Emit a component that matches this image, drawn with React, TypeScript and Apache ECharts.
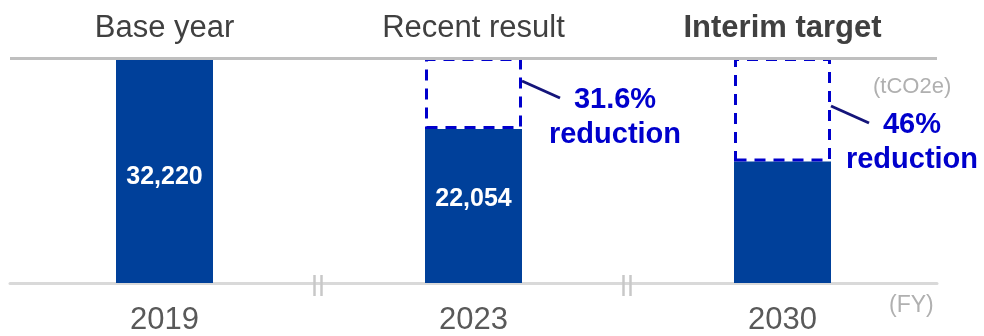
import React, { useEffect, useRef } from "react";
import * as echarts from "echarts";

// Fiscal years and the stage each one represents
const categories = ["2019", "2023", "2030"];
const stageLabels = ["Base year", "Recent result", "Interim target"];

// Emissions (tCO2e): base year, recent result, interim target (46% below base)
const emissions = [32220, 22054, 17399];
const showValueLabel = [true, true, false];
const baseYearValue = 32220;

// Reduction versus the base year, per category (empty = no callout)
const reductionRates = ["", "31.6%", "46%"];

// Callout placement: [text centre offset from box edge, vertical offset from box top]
const calloutLayout = [
  [0, 0],
  [93, 23],
  [81, 48],
];
// Vertical nudges for the value labels inside the bars
const valueLabelOffsets = [4, -9, 0];

const FONT = "'Liberation Sans', Arial, Helvetica, sans-serif";
const BAR_COLOR = "#00409a";
const ACCENT = "#0000cc";
const BAR_WIDTH = 97;

export default function App() {
  const ref = useRef<HTMLDivElement>(null);

  useEffect(() => {
    if (!ref.current) return;
    const chart = echarts.init(ref.current, null, { renderer: "svg" });

    const calloutData = reductionRates
      .map((r, i) => [i, baseYearValue, r])
      .filter((d) => d[2] !== "");

    chart.setOption({
      animation: false,
      textStyle: { fontFamily: FONT },
      grid: {
        left: 10,
        right: 47,
        top: 58,
        bottom: 53,
        containLabel: false,
        outerBoundsMode: "none",
      },
      xAxis: [
        {
          type: "category",
          data: categories,
          position: "bottom",
          axisLine: { lineStyle: { color: "#d9d9d9", width: 3 } },
          axisTick: { show: false },
          axisLabel: {
            color: "#595959",
            fontSize: 31,
            fontFamily: FONT,
            margin: 20,
          },
          splitLine: { show: false },
        },
        {
          type: "category",
          data: stageLabels.map((s, i) => ({
            value: s,
            textStyle: { fontWeight: i === 2 ? "bold" : "normal" },
          })),
          position: "top",
          axisLine: { show: false },
          axisTick: { show: false },
          axisLabel: {
            color: "#404040",
            fontSize: 31,
            fontFamily: FONT,
            margin: 16,
          },
          splitLine: { show: false },
        },
      ],
      yAxis: {
        type: "value",
        min: 0,
        max: baseYearValue,
        show: false,
        splitLine: { show: false },
      },
      series: [
        {
          name: "Emissions",
          type: "bar",
          stack: "total",
          barWidth: BAR_WIDTH,
          itemStyle: { color: BAR_COLOR },
          data: emissions.map((v, i) => ({
            value: v,
            label: {
              show: showValueLabel[i],
              offset: [0, valueLabelOffsets[i]],
            },
          })),
          label: {
            position: "inside",
            color: "#ffffff",
            fontWeight: "bold",
            fontSize: 25,
            fontFamily: FONT,
            formatter: (p: any) => Number(p.value).toLocaleString("en-US"),
          },
          markLine: {
            silent: true,
            symbol: "none",
            label: { show: false },
            lineStyle: { color: "#bfbfbf", width: 3, type: "solid" },
            data: [{ yAxis: baseYearValue }],
          },
          z: 2,
        },
        {
          name: "Reduction",
          type: "bar",
          stack: "total",
          barWidth: BAR_WIDTH,
          itemStyle: {
            color: "rgba(0,0,0,0)",
            borderColor: ACCENT,
            borderWidth: 3,
            borderType: [11, 8],
          },
          data: emissions.map((v, i) => (i === 0 ? "-" : baseYearValue - v)),
          z: 3,
        },
        {
          name: "Callouts",
          type: "custom",
          silent: true,
          z: 4,
          data: calloutData,
          renderItem: (params: any, api: any) => {
            const idx = api.value(0);
            const pt = api.coord([idx, baseYearValue]);
            const right = pt[0] + BAR_WIDTH / 2;
            const top = pt[1];
            const [dx, dy] = calloutLayout[idx];
            const rate = calloutData[params.dataIndex][2];
            return {
              type: "group",
              children: [
                {
                  type: "line",
                  shape: {
                    x1: right,
                    y1: top + dy,
                    x2: right + 38,
                    y2: top + dy + 17,
                  },
                  style: { stroke: "#14147a", lineWidth: 3 },
                },
                {
                  type: "text",
                  x: right + dx,
                  y: top + dy - 1,
                  style: {
                    text: `${rate}\nreduction`,
                    fill: ACCENT,
                    fontSize: 29,
                    fontWeight: "bold",
                    fontFamily: FONT,
                    lineHeight: 35,
                    align: "center",
                    verticalAlign: "top",
                  },
                },
              ],
            };
          },
        },
        {
          name: "Axis breaks",
          type: "custom",
          silent: true,
          z: 5,
          data: [[0, 0], [1, 0]],
          renderItem: (params: any, api: any) => {
            const idx = api.value(0);
            const pt = api.coord([idx, 0]);
            const band = api.size([1, 0])[0];
            const cx = pt[0] + band / 2 - 1;
            const y = pt[1];
            const mk = (x: number) => ({
              type: "line",
              shape: { x1: x, y1: y - 8, x2: x, y2: y + 13 },
              style: { stroke: "#c8c8c8", lineWidth: 2.5 },
            });
            return { type: "group", children: [mk(cx - 3.5), mk(cx + 3.5)] };
          },
        },
      ],
      graphic: [
        {
          type: "text",
          left: 873,
          top: 74,
          style: {
            text: "(tCO2e)",
            fill: "#b0b0b0",
            fontSize: 22,
            fontFamily: FONT,
          },
        },
        {
          type: "text",
          left: 889,
          top: 292,
          style: {
            text: "(FY)",
            fill: "#b0b0b0",
            fontSize: 23,
            fontFamily: FONT,
          },
        },
      ],
    });

    return () => chart.dispose();
  }, []);

  return (
    <div
      ref={ref}
      style={{ position: "fixed", left: 0, top: 0, width: 984, height: 336 }}
    />
  );
}
